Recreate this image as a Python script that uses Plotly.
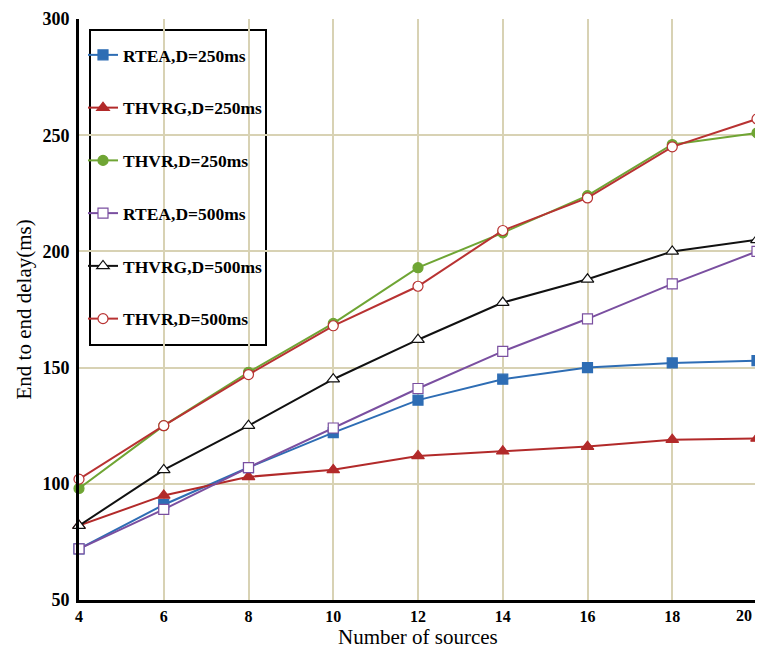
import plotly.graph_objects as go

x_sources = [4, 6, 8, 10, 12, 14, 16, 18, 20]
rtea_250 = [72, 91, 107, 122, 136, 145, 150, 152, 153]
thvrg_250 = [82, 95, 103, 106, 112, 114, 116, 119, 119.5]
thvr_250 = [98, 125, 148, 169, 193, 208, 224, 246, 251]
rtea_500 = [72, 89, 107, 124, 141, 157, 171, 186, 200]
thvrg_500 = [82, 106, 125, 145, 162, 178, 188, 200, 205]
thvr_500 = [102, 125, 147, 168, 185, 209, 223, 245, 257]
y_ticks = [50, 100, 150, 200, 250, 300]

series = [
    ("RTEA,D=250ms", rtea_250, "#2e6db4", "square", "#2e6db4"),
    ("THVRG,D=250ms", thvrg_250, "#b22a2a", "triangle-up", "#b22a2a"),
    ("THVR,D=250ms", thvr_250, "#6fa534", "circle", "#6fa534"),
    ("RTEA,D=500ms", rtea_500, "#7a4fa0", "square", "white"),
    ("THVRG,D=500ms", thvrg_500, "#111111", "triangle-up", "white"),
    ("THVR,D=500ms", thvr_500, "#b83232", "circle", "white"),
]

fig = go.Figure()
for i, (name, ys, col, sym, fill) in enumerate(series):
    fig.add_trace(go.Scatter(
        x=x_sources, y=ys, name=f"<b>{name}</b>", mode="lines+markers",
        legendgroup=f"g{i}", cliponaxis=False,
        line=dict(color=col, width=2),
        marker=dict(symbol=sym, size=10 if sym != "triangle-up" else 11,
                    color=fill, line=dict(color=col, width=1.2)),
    ))

grid = "#d8d2b4"
# page has an 8px body margin; figure sized/offset to compensate
W, H = 755, 641
L, R, T, B = 71, 6, 11, 49
pw = W - L - R
ph = H - T - B


def px(xp):  # page x -> paper
    return (xp - 8 - L) / pw


def py(yp):  # page y -> paper
    return 1 - (yp - 8 - T) / ph


last_x = x_sources[-1]
fig.update_layout(
    width=W, height=H,
    margin=dict(l=L, r=R, t=T, b=B),
    paper_bgcolor="white", plot_bgcolor="white",
    font=dict(family="Liberation Serif", color="black"),
    showlegend=True,
    legend=dict(
        x=px(83), y=py(37), xanchor="left", yanchor="top",
        bgcolor="rgba(0,0,0,0)", borderwidth=0,
        font=dict(family="Liberation Serif", size=17.5, color="black"),
        tracegroupgap=27, itemwidth=30,
    ),
    xaxis=dict(
        range=[4, 20], tickvals=x_sources,
        ticktext=[f"<b>{v}</b>" if v != last_x else "" for v in x_sources],
        showgrid=True, gridcolor=grid, gridwidth=2,
        showline=True, linecolor="black", linewidth=3,
        ticks="", automargin=False,
        tickfont=dict(family="Liberation Serif", size=16),
        zeroline=False,
    ),
    yaxis=dict(
        range=[50, 300], tickvals=y_ticks,
        ticktext=[f"<b>{v}</b>" for v in y_ticks],
        showgrid=True, gridcolor=grid, gridwidth=2,
        showline=True, linecolor="black", linewidth=3,
        ticks="", ticklabelstandoff=3, automargin=False,
        tickfont=dict(family="Liberation Serif", size=18),
        zeroline=False,
    ),
)
fig.add_shape(type="line", xref="x", yref="y", x0=20, x1=20, y0=50, y1=300,
              line=dict(color=grid, width=2), layer="below")
fig.add_shape(type="rect", xref="paper", yref="paper",
              x0=px(90), x1=px(266), y0=py(345), y1=py(30),
              fillcolor="white", line=dict(color="black", width=2), layer="between")
# last x tick label, kept inside the visible edge
fig.add_annotation(text=f"<b>{last_x}</b>", xref="paper", yref="paper",
                   x=px(754), y=py(615), xanchor="right", yanchor="middle",
                   showarrow=False, font=dict(family="Liberation Serif", size=16))
fig.add_annotation(text="Number of sources", xref="paper", yref="paper",
                   x=0.5, y=py(637), xanchor="center", yanchor="middle",
                   showarrow=False, font=dict(family="Liberation Serif", size=21))
fig.add_annotation(text="End to end delay(ms)", xref="paper", yref="paper",
                   x=-(L - 15) / pw, y=0.5, xanchor="center", yanchor="middle",
                   textangle=-90, showarrow=False,
                   font=dict(family="Liberation Serif", size=21))
fig.write_html("out.html")
